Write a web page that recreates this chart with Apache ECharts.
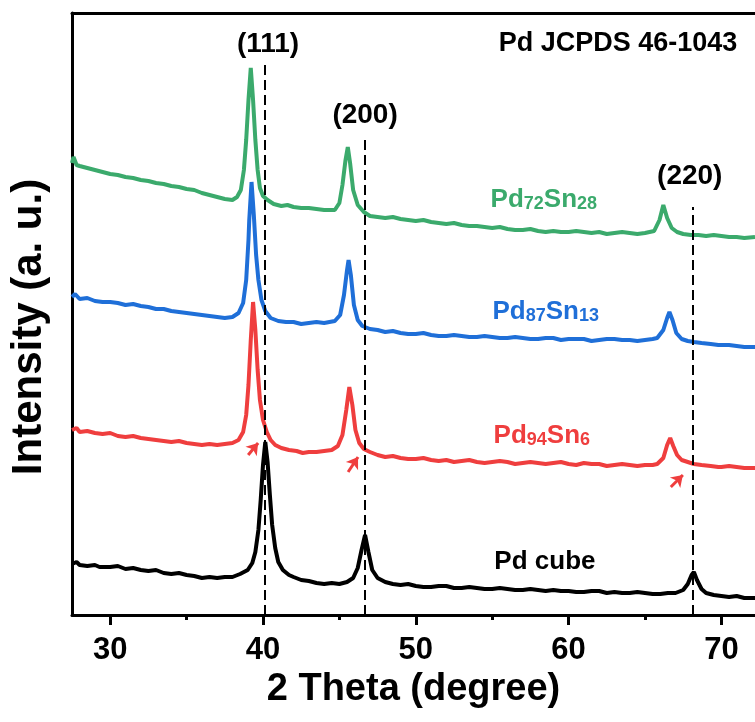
<!DOCTYPE html>
<html><head><meta charset="utf-8">
<script src="https://cdn.jsdelivr.net/npm/echarts@6/dist/echarts.min.js"></script>
<style>html,body{margin:0;padding:0;background:#fff}#c{width:755px;height:722px}</style>
</head><body><div id="c"></div>
<script>
// ---- data ----
const xTicks = [30, 40, 50, 60, 70];
const xMinorTicks = [35, 45, 55, 65];
const refPeaks = [40.12, 46.66, 68.12];
const refTops = [550, 475, 408];
const refLabels = ['(111)', '(200)', '(220)'];
const refLabelAt = [[40.33, 571], [46.68, 500], [67.93, 439]];

const pdCube = [[27.5,51],[27.8,53],[28,50],[28.5,49],[29,50],[29.3,48],[29.5,48],[30,48],[30.5,49],[31,46],[31.5,47],[32,45],[32.5,44],[33,45],[33.5,42],[34,41],[34.5,42],[35,40],[35.5,39],[36,37],[36.5,38],[37,37],[37.5,38],[38,38],[38.5,41],[39,45],[39.3,52],[39.5,63],[39.7,85],[39.85,115],[40,150],[40.15,173],[40.3,153],[40.45,120],[40.6,90],[40.8,67],[41,53],[41.3,45],[41.7,40],[42,38],[42.5,35],[43,34],[43.5,32],[44,31],[44.5,32],[45,31],[45.5,33],[45.9,37],[46.2,47],[46.45,65],[46.68,80],[46.9,63],[47.15,45],[47.5,37],[48,33],[48.5,31],[49,30],[49.5,31],[50,29],[50.5,28],[51,28],[51.5,29],[52,29],[52.5,27],[53,27],[53.5,28],[54,27],[54.5,26],[55,26],[55.5,27],[56,26],[56.5,25],[57,25],[57.5,26],[58,25],[58.5,24],[59,25],[59.5,24],[60,24],[60.5,23],[61,23],[61.5,24],[62,24],[62.5,22],[63,23],[63.5,22],[64,22],[64.5,23],[65,22],[65.5,21],[66,21],[66.5,22],[67,22],[67.5,25],[67.8,31],[68.05,40],[68.2,43],[68.4,35],[68.7,26],[69,22],[69.5,20],[70,19],[70.5,18],[71,19],[71.5,17],[72.2,17]];

const pd94Sn6 = [[27.5,185],[27.8,187],[28,183],[28.5,184],[29,182],[29.5,181],[30,182],[30.5,179],[31,178],[31.5,179],[32,177],[32.5,176],[33,175],[33.5,174],[34,173],[34.5,174],[35,172],[35.5,171],[36,170],[36.5,171],[37,170],[37.5,171],[38,172],[38.4,175],[38.7,183],[38.9,200],[39.05,230],[39.2,275],[39.35,313],[39.5,285],[39.65,245],[39.8,215],[40,195],[40.25,183],[40.5,175],[40.8,170],[41.2,167],[41.7,165],[42.2,164],[42.6,162],[43,163],[43.5,163],[44,164],[44.5,165],[44.9,169],[45.2,180],[45.45,205],[45.65,228],[45.85,210],[46.05,185],[46.3,172],[46.6,166],[47,163],[47.5,160],[48,158],[48.5,159],[49,157],[49.5,156],[50,156],[50.5,157],[51,155],[51.5,154],[52,155],[52.5,153],[53,154],[53.5,155],[54,153],[54.5,152],[55,153],[55.5,154],[56,153],[56.5,151],[57,152],[57.5,153],[58,152],[58.5,151],[59,152],[59.5,153],[60,151],[60.5,150],[61,152],[61.5,151],[62,151],[62.5,149],[63,150],[63.5,151],[64,150],[64.5,149],[65,150],[65.5,150],[65.8,151],[66.2,157],[66.45,170],[66.65,177],[66.85,169],[67.1,160],[67.4,155],[67.8,153],[68.2,151],[68.7,150],[69.3,149],[69.8,148],[70,148],[70.5,149],[71,148],[71.5,147],[72.2,147]];

const pd87Sn13 = [[27.5,318],[27.7,321],[28,316],[28.5,317],[29,314],[29.5,313],[30,313],[30.5,312],[31,310],[31.5,311],[32,309],[32.5,308],[33,306],[33.5,306],[34,304],[34.5,303],[35,302],[35.5,301],[36,300],[36.5,299],[37,298],[37.5,297],[38,298],[38.4,302],[38.7,312],[38.9,335],[39.05,375],[39.1,395],[39.25,433],[39.4,400],[39.55,360],[39.7,335],[39.9,315],[40.15,304],[40.5,297],[41,294],[41.5,293],[42,293],[42.5,291],[43,292],[43.5,293],[44,292],[44.7,294],[45.05,300],[45.3,320],[45.5,345],[45.6,355],[45.75,340],[45.95,310],[46.2,295],[46.5,289],[47,286],[47.5,285],[48,283],[48.5,284],[49,282],[49.5,281],[50,281],[50.5,282],[51,280],[51.5,279],[52,279],[52.5,280],[53,279],[53.5,278],[54,278],[54.5,279],[55,278],[55.5,277],[56,277],[56.5,278],[57,277],[57.5,276],[58,276],[58.5,277],[59,277],[59.5,275],[60,276],[60.5,276],[61,276],[61.5,274],[62,275],[62.5,276],[63,276],[63.5,275],[64,275],[64.5,274],[65,275],[65.5,276],[65.8,277],[66.2,285],[66.45,297],[66.6,303],[66.8,295],[67.05,282],[67.4,276],[67.8,274],[68.2,273],[68.7,272],[69.3,271],[69.8,270],[70,270],[70.5,270],[71,269],[71.5,268],[72.2,268]];

const pd72Sn28 = [[27.5,452],[27.6,458],[27.8,450],[28,449],[28.5,447],[29,445],[29.5,443],[30,441],[30.5,440],[31,438],[31.5,437],[32,435],[32.5,434],[33,432],[33.5,431],[34,429],[34.5,428],[35,426],[35.5,425],[36,422],[36.5,420],[37,418],[37.5,416],[38,415],[38.3,418],[38.55,425],[38.75,445],[38.9,475],[39.05,515],[39.2,547],[39.35,515],[39.5,475],[39.65,445],[39.8,427],[40,419],[40.3,415],[40.7,411],[41.2,409],[41.6,410],[42,408],[42.5,407],[43,407],[43.5,406],[44,405],[44.7,405],[45,412],[45.2,430],[45.4,455],[45.55,468],[45.7,452],[45.9,425],[46.2,410],[46.6,403],[47,399],[47.5,398],[48,397],[48.5,398],[49,396],[49.5,395],[50,394],[50.5,395],[51,393],[51.5,392],[52,391],[52.5,392],[53,390],[53.5,389],[54,389],[54.5,388],[55,387],[55.5,388],[56,386],[56.5,385],[57,385],[57.5,386],[58,384],[58.5,383],[59,384],[59.5,383],[60,383],[60.5,384],[61,383],[61.5,382],[62,383],[62.5,381],[63,382],[63.5,383],[64,382],[64.5,381],[65,382],[65.6,384],[65.95,395],[66.2,410],[66.45,397],[66.75,387],[67.1,383],[67.5,381],[68,380],[68.5,380],[69,379],[69.5,380],[70,379],[70.5,378],[71,378],[71.5,377],[72.2,378]];

const redArrows = [[[39.03,160],[39.68,172]], [[45.57,143],[46.22,158]], [[66.69,128],[67.48,140]]];

// series label anchors [2theta, intensity]
const labelCube = [58.45, 53];
const label94 = [58.25, 179];
const label87 = [58.5, 303];
const label72 = [58.38, 415];

// ---- style ----
const FONT = 'Liberation Sans, Arial, sans-serif';
const GREEN = '#3BAA6C', BLUE = '#1F6FD8', RED = '#EF3E3E', BLACK = '#000000';

function richLabel(color, main1, sub1, main2, sub2) {
  return {
    show: true, position: 'inside',
    formatter: '{m|' + main1 + '}{s|' + sub1 + '}{m|' + main2 + '}{s|' + sub2 + '}',
    rich: {
      m: {fontFamily: FONT, fontWeight: 'bold', fontSize: 26, lineHeight: 26, color: color, padding: [0, 0, 6, 0], verticalAlign: 'top'},
      s: {fontFamily: FONT, fontWeight: 'bold', fontSize: 18, lineHeight: 18, color: color, verticalAlign: 'bottom'}
    }
  };
}
function plainLabel(text, color) {
  return {show: true, position: 'inside', formatter: text,
          fontFamily: FONT, fontWeight: 'bold', fontSize: 26, lineHeight: 26, color: color};
}
function curve(name, data, color, extra) {
  return Object.assign({
    name: name, type: 'line', data: data, showSymbol: false, symbol: 'none',
    lineStyle: {color: color, width: 4}, itemStyle: {color: color},
    emphasis: {disabled: true}, z: 3
  }, extra || {});
}

const option = {
  animation: false,
  backgroundColor: '#ffffff',
  grid: {left: 71, top: 13, right: 0, bottom: 107, containLabel: false},
  xAxis: [
    {
      type: 'value', position: 'bottom', min: 27.5, max: 72.2,
      name: '2 Theta (degree)', nameLocation: 'middle', nameGap: 56,
      nameTextStyle: {fontFamily: FONT, fontWeight: 'bold', fontSize: 38, color: BLACK},
      axisLine: {show: true, onZero: false, lineStyle: {color: BLACK, width: 3}},
      axisTick: {show: true, inside: false, length: 10, lineStyle: {color: BLACK, width: 3}, customValues: xTicks},
      axisLabel: {show: true, margin: 20, fontFamily: FONT, fontWeight: 'bold', fontSize: 31, color: BLACK, customValues: xTicks},
      splitLine: {show: false}
    },
    {
      type: 'value', position: 'bottom', min: 27.5, max: 72.2,
      axisLine: {show: false},
      axisTick: {show: true, inside: false, length: 5, lineStyle: {color: BLACK, width: 3}, customValues: xMinorTicks},
      axisLabel: {show: false},
      splitLine: {show: false}
    },
    {
      type: 'value', position: 'top', min: 27.5, max: 72.2,
      axisLine: {show: true, onZero: false, lineStyle: {color: BLACK, width: 3}},
      axisTick: {show: false}, axisLabel: {show: false}, splitLine: {show: false}
    }
  ],
  yAxis: {
    type: 'value', min: 0, max: 602,
    name: 'Intensity (a. u.)', nameLocation: 'middle', nameGap: 22, nameRotate: 90,
    nameTextStyle: {fontFamily: FONT, fontWeight: 'bold', fontSize: 42, color: BLACK, padding: [0, 26, 0, 0]},
    axisLine: {show: true, onZero: false, lineStyle: {color: BLACK, width: 3}},
    axisTick: {show: false}, axisLabel: {show: false}, splitLine: {show: false}
  },
  graphic: [{
    type: 'text', x: 618, y: 44, z: 10,
    style: {text: 'Pd JCPDS 46-1043', align: 'center', verticalAlign: 'middle',
            fontFamily: FONT, fontWeight: 'bold', fontSize: 27, fill: BLACK}
  }],
  series: [
    {
      name: 'ref', type: 'line', data: [], z: 1, silent: true,
      markLine: {
        silent: true, symbol: ['none', 'none'], animation: false,
        lineStyle: {color: BLACK, width: 2, type: [10, 5]},
        label: {show: false},
        data: refPeaks.map((p, i) => [{coord: [p, 0]}, {coord: [p, refTops[i]]}])
      },
      markPoint: {
        silent: true, symbol: 'circle', symbolSize: 1, itemStyle: {color: 'rgba(0,0,0,0)'},
        label: {show: true, position: 'inside', fontFamily: FONT, fontWeight: 'bold', fontSize: 28, lineHeight: 28, color: BLACK,
                formatter: p => refLabels[p.dataIndex]},
        data: refLabelAt.map(c => ({coord: c}))
      }
    },
    curve('Pd cube', pdCube, BLACK, {
      markPoint: {silent: true, symbol: 'circle', symbolSize: 1, itemStyle: {color: 'rgba(0,0,0,0)'},
                  label: plainLabel('Pd cube', BLACK), data: [{coord: labelCube}]}
    }),
    curve('Pd94Sn6', pd94Sn6, RED, {
      markPoint: {silent: true, symbol: 'circle', symbolSize: 1, itemStyle: {color: 'rgba(0,0,0,0)'},
                  label: richLabel(RED, 'Pd', '94', 'Sn', '6'), data: [{coord: label94}]},
      markLine: {
        silent: true, symbol: ['none', 'arrow'], symbolSize: 11, animation: false,
        lineStyle: {color: RED, width: 3, type: 'solid'}, itemStyle: {color: RED}, label: {show: false},
        data: redArrows.map(a => [{coord: a[0]}, {coord: a[1]}])
      }
    }),
    curve('Pd87Sn13', pd87Sn13, BLUE, {
      markPoint: {silent: true, symbol: 'circle', symbolSize: 1, itemStyle: {color: 'rgba(0,0,0,0)'},
                  label: richLabel(BLUE, 'Pd', '87', 'Sn', '13'), data: [{coord: label87}]}
    }),
    curve('Pd72Sn28', pd72Sn28, GREEN, {
      markPoint: {silent: true, symbol: 'circle', symbolSize: 1, itemStyle: {color: 'rgba(0,0,0,0)'},
                  label: richLabel(GREEN, 'Pd', '72', 'Sn', '28'), data: [{coord: label72}]}
    })
  ]
};

const chart = echarts.init(document.getElementById('c'), null, {renderer: 'canvas'});
chart.setOption(option);
</script>
</body></html>
